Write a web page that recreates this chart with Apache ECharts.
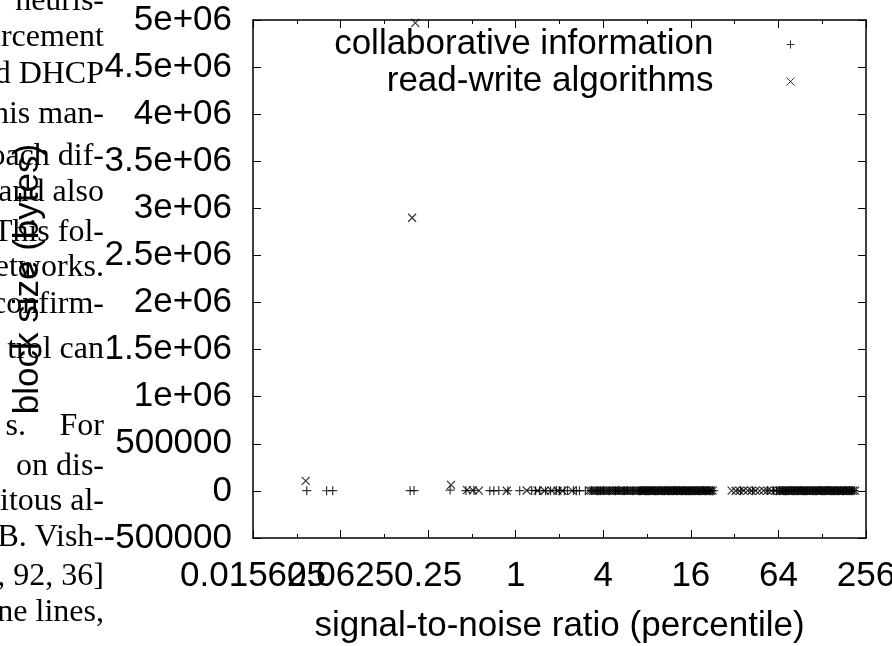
<!DOCTYPE html>
<html><head><meta charset="utf-8">
<script src="https://cdn.jsdelivr.net/npm/echarts@6/dist/echarts.min.js"></script>
<style>html,body{margin:0;padding:0;background:#fff}#c{width:892px;height:646px}</style>
</head><body><div id="c"></div>
<script>
// ---- data ----
const xTickValues = [0.015625, 0.0625, 0.25, 1, 4, 16, 64, 256];
const xTickLabels = ['0.015625', '0.0625', '0.25', '1', '4', '16', '64', '256'];
const xMinorValues = [0.03125, 0.125, 0.5, 2, 8, 32, 128];
// labels are split over two overlapping axes so that ECharts does not drop the colliding ones
const xLabelSetA = [0.0625, 1, 16, 256];
const xLabelSetB = [0.015625, 0.25, 4, 64];
const yTickLabels = ['-500000', '0', '500000', '1e+06', '1.5e+06', '2e+06', '2.5e+06', '3e+06', '3.5e+06', '4e+06', '4.5e+06', '5e+06'];
const seriesNames = ['collaborative information', 'read-write algorithms'];

const collabX = [0.0366, 0.0501, 0.0552, 0.188, 0.200, 0.354, 0.455, 0.516, 0.664, 0.707, 0.765, 0.882, 1.065, 1.287,
  1.370, 1.459, 1.604, 1.736, 1.908, 2.0, 2.164, 2.269, 2.494, 2.614, 2.741, 3.012, 3.311, 3.639, 3.815, 4.0,
  4.396, 4.833, 5.067, 5.569, 5.838, 6.418, 7.052, 7.394, 7.753, 8.128, 8.521, 8.933, 9.365, 9.818, 10.29, 10.79,
  11.31, 11.86, 12.43, 13.04, 13.67, 14.33, 15.02, 15.75, 16.51, 17.31, 18.15, 19.03, 19.95, 20.91, 21.93, 22.99,
  35.17, 42.50, 53.82, 59.15,
  62.03, 65.03, 68.17, 71.47, 74.92, 78.55, 82.35, 86.33, 90.51, 94.89, 99.48, 104.3, 109.4, 114.6, 120.2, 126.0,
  132.1, 138.5, 145.2, 152.2, 159.6, 167.3, 175.4, 183.9, 192.8, 202.1, 211.9,
  7.221, 7.569, 7.938, 8.321, 8.724, 9.147, 9.589, 10.06, 10.54, 11.05, 11.58, 12.14, 12.73, 13.35, 14.00, 14.67,
  15.38, 16.12, 16.91, 17.73, 18.59, 19.49, 20.43, 21.42, 22.45,
  66.56, 69.79, 73.15, 76.71, 80.45, 84.35, 88.38, 92.67, 97.15, 101.8, 106.8, 112.0, 117.4, 123.1, 129.0, 135.3,
  141.8, 148.7, 155.9, 163.5, 171.3, 179.6, 188.3, 197.4, 207.0];
const collabY = [2000, 1500, 3000, 2500, 4000, 9000, 3500, 6000, 2000, 1000, 4500, 3000, 2500, 5000,
  1200, 3400, 2100, 800, 5600, 2300, 1900, 4200, 3100, 700, 2600, 1800, 3900, 2200, 1400, 6100,
  2700, 1100, 3300, 900, 4800, 2500, 1600, 3700, 2000, 1300, 5200, 2900, 800, 3600, 1700, 4400,
  2300, 1000, 3800, 2600, 1500, 4100, 2100, 900, 3200, 1800, 2700, 5000, 1200, 3500, 2400, 1600,
  3000, 2200, 4600, 1900,
  2800, 1300, 3900, 2100, 700, 3400, 2500, 1800, 4300, 1100, 2900, 3600, 2000, 1400, 4700, 2300,
  1700, 3100, 900, 2600, 3800, 1500, 2200, 4000, 1200, 2700, 3300,
  1900, 3200, 2400, 1100, 3700, 2800, 1500, 4200, 2000, 900, 3400, 2600, 1300, 3900, 2200, 1700,
  3000, 2500, 1400, 4100, 2100, 3600, 1000, 2900, 2300,
  3300, 1600, 2700, 4000, 1200, 2400, 3500, 1900, 2800, 1100, 3800, 2200, 1500, 3100, 2600, 900,
  4300, 2000, 2900, 1300, 3600, 2500, 1800, 3200, 2100];

const rwX = [0.0360, 0.194, 0.204, 0.359, 0.462, 0.508, 0.558, 0.868, 1.189, 1.414, 1.579, 1.763, 1.938,
  2.10, 2.45,
  3.209, 3.417, 3.639, 3.876, 4.128, 4.396, 4.683, 4.987, 5.312, 5.657, 6.025, 6.418, 6.835, 7.280, 7.753, 8.257,
  8.794, 9.365, 9.975, 10.62, 11.31, 12.05, 12.83, 13.67, 14.56, 15.51, 16.51, 17.59, 18.73, 19.95, 21.25, 22.63,
  30.52, 32.51, 34.63, 36.88, 39.27, 41.83, 44.55, 47.45, 50.53, 53.82, 57.32, 61.05, 65.03, 69.26, 73.76, 78.55,
  83.65, 89.08, 94.89, 101.1, 107.6, 114.6, 122.1, 130.1, 138.5, 147.5, 157.1, 167.3, 178.2, 189.8, 202.1, 215.3,
  7.052, 7.511, 8.0, 8.521, 9.075, 9.668, 10.29, 10.96, 11.67, 12.43, 13.24, 14.10, 15.02, 16.0, 17.04, 18.15,
  19.33, 20.59, 21.93,
  67.10, 71.47, 76.11, 81.07, 86.33, 91.95, 97.95, 104.3, 111.1, 118.3, 126.0, 134.2, 142.9, 152.2, 162.2, 172.7,
  183.9, 195.9, 208.7,
  3.311, 3.526, 3.756, 4.0, 4.260, 4.537, 4.833, 5.147, 5.482, 5.838, 6.218, 6.621];
const rwY = [106000, 2900000, 4970000, 64000, 8000, 5000, 3000, 2000, 4000, 2500, 1500, 3500, 2200,
  1800, 3000,
  2400, 1300, 3700, 2000, 900, 4100, 2600, 1500, 3200, 2100, 700, 3800, 2300, 1200, 2900, 4400,
  1700, 3100, 2500, 1000, 3600, 2200, 1400, 4000, 2700, 1900, 3300, 800, 2400, 3900, 1600, 2800,
  3500, 2000, 1100, 4200, 2600, 1800, 3000, 900, 3700, 2300, 1500, 4500, 2100, 1300, 3400, 2500,
  1700, 3900, 2200, 1000, 3100, 2700, 1600, 4100, 2400, 1200, 3600, 2000, 2800, 1400, 3300, 2900,
  2600, 1400, 3500, 2100, 900, 3800, 2300, 1700, 4000, 2800, 1200, 3300, 2000, 3600, 1500, 2700,
  3100, 1900, 2400,
  2200, 3700, 1300, 2900, 4100, 1800, 2500, 3400, 1100, 3000, 2300, 3900, 1600, 2700, 3200, 1400,
  2600, 3500, 2000,
  2900, 1500, 3600, 2200, 1000, 3300, 2500, 1700, 4000, 2100, 2800, 1400];

// fragment of surrounding page text visible in the reference
const pageLines = ['heuris-', 'rcement', 'd DHCP', 'his man-', 'oach dif-', 'and also', 'This fol-', 'etworks.',
  'confirm-', 'trol can', 'For', 'on dis-', 'itous al-', 'B. Vish-', ', 92, 36]', 'ne lines,'];
const pageLineY = [2, 38, 75, 115, 157, 193, 233, 268, 305, 350, 427, 467, 502, 538, 577, 613];

// ---- chart ----
const FONT = 'Liberation Sans, Arial, Helvetica, sans-serif';
const FS = 35;
const plusPath = 'path://M0,5L10,5M5,0L5,10';
const crossPath = 'path://M0,0L10,10M10,0L0,10';

function zip(xs, ys) { return xs.map((x, i) => [x, ys[i]]); }

const black = '#000';
function xLabelFormatter(v) {
  let best = 0;
  for (let i = 0; i < xTickValues.length; i++) {
    if (Math.abs(Math.log2(xTickValues[i]) - Math.log2(v)) < Math.abs(Math.log2(xTickValues[best]) - Math.log2(v))) best = i;
  }
  return xTickLabels[best];
}
function xAxisBase(position, values, len, show, labelValues) {
  return {
    type: 'log', logBase: 2, min: 0.015625, max: 256, position: position,
    axisLine: { show: show, onZero: false, lineStyle: { color: black, width: 1.5 } },
    axisTick: { show: true, inside: true, length: len, customValues: values, lineStyle: { color: black, width: 1 } },
    axisLabel: labelValues ? {
      show: true, customValues: labelValues, margin: 21, color: black,
      fontFamily: FONT, fontSize: FS, showMinLabel: true, showMaxLabel: true, hideOverlap: false,
      formatter: xLabelFormatter
    } : { show: false },
    splitLine: { show: false }
  };
}

const mainX = xAxisBase('bottom', xTickValues, 8, true, xLabelSetA);
mainX.name = 'signal-to-noise ratio (percentile)';
mainX.nameLocation = 'middle';
mainX.nameGap = 71;
mainX.nameTextStyle = { color: black, fontFamily: FONT, fontSize: FS };

function yAxisBase(position, labels) {
  return {
    type: 'value', min: -500000, max: 5000000, interval: 500000, position: position,
    axisLine: { show: true, lineStyle: { color: black, width: 1.5 } },
    axisTick: { show: true, inside: true, length: 8, lineStyle: { color: black, width: 1 } },
    axisLabel: labels ? {
      show: true, margin: 21, color: black, fontFamily: FONT, fontSize: FS,
      showMinLabel: true, showMaxLabel: true, hideOverlap: false,
      formatter: function (v, i) { return yTickLabels[i]; }
    } : { show: false },
    splitLine: { show: false }
  };
}
const mainY = yAxisBase('left', true);
mainY.name = 'block size (bytes)';
mainY.nameLocation = 'middle';
mainY.nameGap = 207;
mainY.nameRotate = 90;
mainY.nameTextStyle = { color: black, fontFamily: FONT, fontSize: FS };

function legendFor(name, icon, top) {
  return {
    data: [{ name: name, icon: icon }],
    orient: 'vertical', align: 'right', right: 97, top: top,
    itemWidth: 144, itemHeight: 8, itemGap: 0, padding: 0,
    selectedMode: false,
    itemStyle: { color: black, borderColor: black, borderWidth: 1 },
    textStyle: { color: black, fontFamily: FONT, fontSize: FS }
  };
}

const chart = echarts.init(document.getElementById('c'), null, { renderer: 'canvas' });
chart.setOption({
  animation: false,
  backgroundColor: '#fff',
  grid: { left: 253, right: 26, top: 20, bottom: 108, containLabel: false, outerBoundsMode: 'none' },
  xAxis: [
    mainX,
    xAxisBase('top', xTickValues, 8, true),
    xAxisBase('bottom', xMinorValues, 4, false, xLabelSetB),
    xAxisBase('top', xMinorValues, 4, false)
  ],
  yAxis: [mainY, yAxisBase('right', false)],
  legend: [legendFor(seriesNames[0], plusPath, 27), legendFor(seriesNames[1], crossPath, 64)],
  graphic: pageLines.map((t, i) => ({
    type: 'text', z: -10, silent: true,
    style: {
      text: t, x: 104, y: pageLineY[i], align: 'right', verticalAlign: 'middle',
      font: '32px "Liberation Serif", "Times New Roman", serif', fill: black
    }
  })).concat([{
    type: 'text', z: -10, silent: true,
    style: { text: 's.', x: 26, y: 427, align: 'right', verticalAlign: 'middle', font: '32px "Liberation Serif", serif', fill: black }
  }]),
  series: [
    {
      name: seriesNames[0], type: 'scatter', xAxisIndex: 0, yAxisIndex: 0,
      symbol: plusPath, symbolSize: 9,
      itemStyle: { color: black, borderColor: black, borderWidth: 1.2 },
      data: zip(collabX, collabY)
    },
    {
      name: seriesNames[1], type: 'scatter', xAxisIndex: 0, yAxisIndex: 0,
      symbol: crossPath, symbolSize: 8,
      itemStyle: { color: black, borderColor: black, borderWidth: 1.2 },
      data: zip(rwX, rwY)
    }
  ]
});
</script>
</body></html>
